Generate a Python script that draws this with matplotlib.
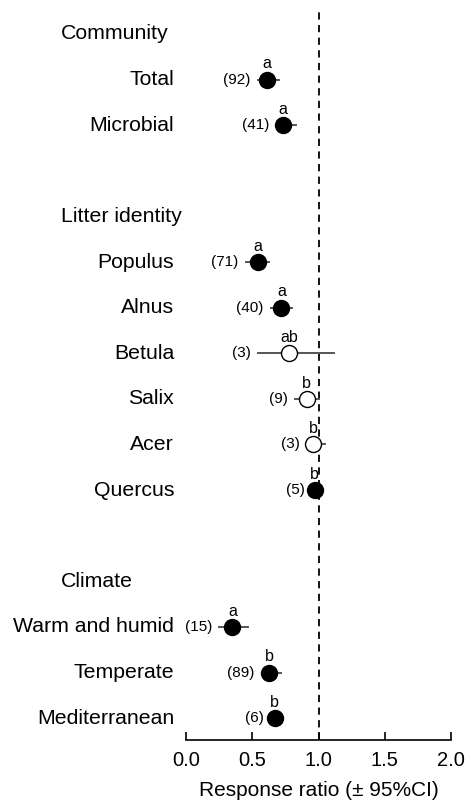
import matplotlib.pyplot as plt
from matplotlib.transforms import blended_transform_factory

plt.rcParams['font.family'] = ['Liberation Sans', 'DejaVu Sans']

# rows: headers and items, None = blank spacer
rows = ['Community', 'Total', 'Microbial', None,
        'Litter identity', 'Populus', 'Alnus', 'Betula', 'Salix', 'Acer', 'Quercus', None,
        'Climate', 'Warm and humid', 'Temperate', 'Mediterranean']
headers = ['Community', 'Litter identity', 'Climate']

items = ['Total', 'Microbial', 'Populus', 'Alnus', 'Betula', 'Salix', 'Acer', 'Quercus',
         'Warm and humid', 'Temperate', 'Mediterranean']
means = [0.61, 0.73, 0.54, 0.72, 0.78, 0.91, 0.96, 0.97, 0.35, 0.63, 0.67]
lower = [0.54, 0.68, 0.45, 0.64, 0.54, 0.82, 0.91, 0.95, 0.25, 0.57, 0.64]
upper = [0.70, 0.83, 0.63, 0.80, 1.12, 1.00, 1.05, 0.99, 0.47, 0.72, 0.70]
n_obs = [92, 41, 71, 40, 3, 9, 3, 5, 15, 89, 6]
letters = ['a', 'a', 'a', 'a', 'ab', 'b', 'b', 'b', 'a', 'b', 'b']
filled = [True, True, True, True, False, False, False, True, True, True, True]

fig = plt.figure(figsize=(4.67, 8.09), dpi=100)
ax = fig.add_axes([186 / 467, 1 - 740 / 809, (451 - 186) / 467, (740 - 8) / 809])

ax.axvline(1.0, color='black', linestyle=(0, (4, 3)), linewidth=1.3, zorder=1)

for i, name in enumerate(items):
    y = rows.index(name)
    ax.plot([lower[i], upper[i]], [y, y], color='#555555', linewidth=1.4, zorder=2)
    ax.plot(means[i], y, 'o', ms=11.5, mec='black', mew=1.0,
            mfc='black' if filled[i] else 'white', zorder=3)
    ax.annotate(f'({n_obs[i]})', (lower[i], y), xytext=(-5, 0), textcoords='offset points',
                ha='right', va='center', fontsize=11)
    ax.annotate(letters[i], (means[i], y), xytext=(0, 6), textcoords='offset points',
                ha='center', va='bottom', fontsize=11.5)

# headers left-aligned in figure coords, items right-aligned next to the axis
head_tr = blended_transform_factory(fig.transFigure, ax.transData)
for j, name in enumerate(rows):
    if name is None:
        continue
    if name in headers:
        ax.text(61 / 467, j, name, transform=head_tr, ha='left', va='center', fontsize=15.3)
    else:
        ax.text(-0.045, j, name, transform=ax.get_yaxis_transform(),
                ha='right', va='center', fontsize=15.3)

ax.set_xlim(0, 2)
ax.set_ylim(15.48, -0.57)
ax.set_xticks([0, 0.5, 1.0, 1.5, 2.0])
ax.set_xticklabels(['0.0', '0.5', '1.0', '1.5', '2.0'])
ax.set_yticks([])
for s in ['top', 'right', 'left']:
    ax.spines[s].set_visible(False)
ax.spines['bottom'].set_linewidth(1.2)
ax.tick_params(axis='x', direction='in', length=6, width=1.2, labelsize=14.5, pad=8)
ax.set_xlabel('Response ratio (± 95%CI)', fontsize=15, labelpad=8)

fig.savefig('out.png', dpi=100)
